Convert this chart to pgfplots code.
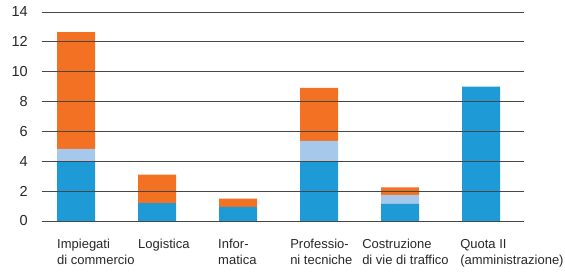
\documentclass[border=0pt]{standalone}
\usepackage{fontspec}
\setmainfont{Liberation Sans}
\usepackage{pgfplots}
\pgfplotsset{compat=1.18}
\definecolor{cblue}{RGB}{30,155,215}
\definecolor{clight}{RGB}{166,200,234}
\definecolor{corange}{RGB}{242,113,34}
\definecolor{ctext}{RGB}{40,40,40}
\tikzset{catlab/.style={anchor=north west, align=left, inner sep=0pt, text=ctext, font=\fontsize{13}{16}\selectfont}}
\begin{document}
\begin{tikzpicture}
\useasboundingbox (0,0) rectangle (565pt,271pt);
\begin{axis}[
  at={(42pt,50pt)}, anchor=south west,
  scale only axis, width=482pt, height=209pt,
  ybar stacked, bar width=38pt,
  xmin=-0.42, xmax=5.53, ymin=0, ymax=14,
  ytick={0,2,...,14},
  xtick=\empty,
  ymajorgrids, major grid style={draw=black!72, line width=1pt},
  axis line style={draw=none},
  major tick length=0pt,
  axis on top,
  /pgf/number format/assume math mode=true,
  yticklabel style={font=\fontsize{14.5}{16}\selectfont, text=ctext, anchor=east, inner sep=0pt, xshift=-14pt},
  clip=false,
]
\addplot[fill=cblue, draw=none] coordinates {(0,4.0) (1,1.2) (2,0.95) (3,4.0) (4,1.15) (5,9.0)};
\addplot[fill=clight, draw=none] coordinates {(0,0.83) (1,0) (2,0) (3,1.36) (4,0.6) (5,0)};
\addplot[fill=corange, draw=none] coordinates {(0,7.83) (1,1.9) (2,0.55) (3,3.55) (4,0.5) (5,0)};
\node[catlab] at (axis cs:0,0) [xshift=-19pt, yshift=-18pt] {Impiegati\\di commercio};
\node[catlab] at (axis cs:1,0) [xshift=-19pt, yshift=-18pt] {Logistica};
\node[catlab] at (axis cs:2,0) [xshift=-20pt, yshift=-18pt] {Infor-\\matica};
\node[catlab] at (axis cs:3,0) [xshift=-29pt, yshift=-18pt] {Professio-\\ni tecniche};
\node[catlab] at (axis cs:4,0) [xshift=-38pt, yshift=-18pt] {Costruzione\\di vie di traffico};
\node[catlab] at (axis cs:5,0) [xshift=-21pt, yshift=-18pt] {Quota II\\(amministrazione)};
\end{axis}
\end{tikzpicture}
\end{document}
